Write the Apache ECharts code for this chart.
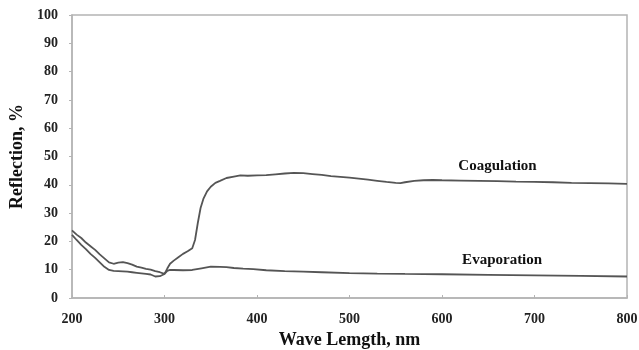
<!DOCTYPE html>
<html>
<head>
<meta charset="utf-8">
<script src="https://cdn.jsdelivr.net/npm/echarts@6/dist/echarts.min.js"></script>
<style>html,body{margin:0;padding:0;background:#fff}#c{width:639px;height:350px}</style>
</head>
<body>
<div id="c"></div>
<script>
// Data
var coagWave = [200,205,210,215,220,225,230,235,240,245,250,255,260,265,270,275,280,285,290,295,300,303,306,310,315,320,325,330,333,336,339,342,346,350,355,360,367,375,382,390,400,410,420,430,440,450,460,470,480,490,500,510,520,530,540,550,555,560,570,580,590,600,620,640,660,680,700,720,740,760,780,800];
var coagVals = [23.9,22.4,21.2,19.6,18.3,17.0,15.4,14.0,12.6,12.1,12.5,12.7,12.3,11.8,11.1,10.7,10.3,10.0,9.5,9.1,8.5,10.4,12.1,13.2,14.4,15.6,16.5,17.6,20.5,26.5,31.8,35.0,37.7,39.3,40.7,41.4,42.4,42.9,43.3,43.2,43.3,43.4,43.7,44.0,44.2,44.1,43.8,43.5,43.1,42.8,42.5,42.2,41.8,41.4,41.0,40.7,40.6,40.9,41.4,41.6,41.7,41.6,41.5,41.4,41.3,41.1,41.0,40.9,40.7,40.6,40.5,40.3];
var evapWave = [200,205,210,215,220,225,230,235,240,245,250,255,260,265,270,275,280,285,290,295,300,303,306,310,320,330,340,350,360,367,375,385,396,410,430,450,470,500,530,560,600,650,700,750,800];
var evapVals = [22.3,20.5,18.8,17.3,15.6,14.2,12.6,11.0,9.9,9.6,9.5,9.4,9.3,9.1,8.9,8.7,8.5,8.3,7.6,7.7,8.5,9.6,9.9,9.9,9.8,9.9,10.5,11.1,11.0,10.9,10.6,10.4,10.2,9.8,9.5,9.3,9.1,8.8,8.6,8.5,8.4,8.2,8.0,7.8,7.6];
var xTicks = {min:200, max:800, step:100};
var yTicks = {min:0, max:100, step:10};
var seriesNames = ['Coagulation','Evaporation'];
var labelCoords = [[660,46.6],[665,13.5]];

function pairs(xs, ys){ return xs.map(function(x,i){ return [x, ys[i]]; }); }

var font = '"Liberation Serif","Times New Roman",serif';
var chart = echarts.init(document.getElementById('c'), null, {renderer:'canvas'});
var lineStyle = {color:'#555555', width:1.8};
function labelMark(name, coord){
  return {
    silent:true,
    symbol:'circle', symbolSize:1,
    itemStyle:{color:'rgba(0,0,0,0)'},
    label:{show:true, position:'inside', formatter:name, color:'#111', fontFamily:font, fontWeight:'bold', fontSize:15},
    data:[{coord:coord}]
  };
}
chart.setOption({
  animation:false,
  backgroundColor:'#fff',
  grid:{left:72, right:12, top:15, bottom:52, containLabel:false, outerBoundsMode:'none', show:true, borderColor:'#b4b4b4', borderWidth:1.5, backgroundColor:'transparent'},
  xAxis:{
    type:'value', min:xTicks.min, max:xTicks.max, interval:xTicks.step,
    name:'Wave Lemgth, nm', nameLocation:'middle', nameGap:32,
    nameTextStyle:{fontFamily:font, fontWeight:'bold', fontSize:18, color:'#111'},
    axisLine:{show:true, lineStyle:{color:'#b4b4b4', width:1.5}},
    axisTick:{show:true, inside:true, length:3, lineStyle:{color:'#b4b4b4'}},
    axisLabel:{fontFamily:font, fontWeight:'bold', fontSize:14, color:'#222', margin:14},
    splitLine:{show:false}
  },
  yAxis:{
    type:'value', min:yTicks.min, max:yTicks.max, interval:yTicks.step,
    name:'Reflection, %', nameLocation:'middle', nameGap:35,
    nameTextStyle:{fontFamily:font, fontWeight:'bold', fontSize:18, color:'#111'},
    axisLine:{show:true, lineStyle:{color:'#b4b4b4', width:1.5}},
    axisTick:{show:true, inside:false, length:3, lineStyle:{color:'#b4b4b4'}},
    axisLabel:{fontFamily:font, fontWeight:'bold', fontSize:14, color:'#222', margin:14},
    splitLine:{show:false}
  },
  series:[
    {name:seriesNames[0], type:'line', data:pairs(coagWave, coagVals), showSymbol:false, symbol:'none', lineStyle:lineStyle, markPoint:labelMark(seriesNames[0], labelCoords[0])},
    {name:seriesNames[1], type:'line', data:pairs(evapWave, evapVals), showSymbol:false, symbol:'none', lineStyle:lineStyle, markPoint:labelMark(seriesNames[1], labelCoords[1])}
  ]
});
</script>
</body>
</html>
